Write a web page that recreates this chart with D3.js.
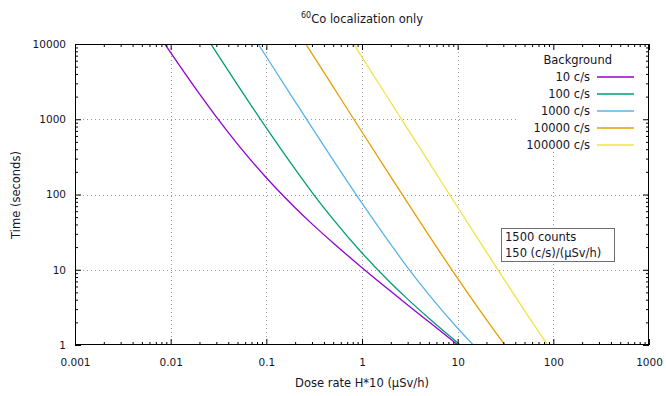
<!DOCTYPE html>
<html>
<head>
<meta charset="utf-8">
<script src="https://cdn.jsdelivr.net/npm/d3@7/dist/d3.min.js"></script>
<style>
  html, body { margin: 0; padding: 0; background: #fff; }
  svg { display: block; }
  text { font-family: "DejaVu Sans", sans-serif; font-size: 10.5px; fill: #14142a; }
</style>
</head>
<body>
<svg id="chart" width="666" height="396"></svg>
<script>
// Background rates (c/s) and their legend labels
const backgrounds = [10, 100, 1000, 10000, 100000];
const legendLabels = ["10 c/s", "100 c/s", "1000 c/s", "10000 c/s", "100000 c/s"];
const lineColors = ["#9400d3", "#009e73", "#56b4e9", "#e69f00", "#f0e442"];

// Dose rate H*10 (µSv/h) and time to localize (s), one pair per background
const dose10 = [0.008, 0.01, 0.02, 0.03, 0.05, 0.1, 0.2, 0.3, 0.5, 1, 2, 3, 5, 10, 12];
const time10 = [11670, 7670, 2170, 1074, 467, 166.7, 66.7, 40.7, 22.7, 10.67, 5.17, 3.41, 2.03, 1.007, 0.838];

const dose100 = [0.02, 0.03, 0.05, 0.1, 0.2, 0.3, 0.5, 1, 2, 3, 5, 10, 12];
const time100 = [17170, 7740, 2870, 767, 217, 107, 46.7, 16.7, 6.67, 4.07, 2.27, 1.07, 0.88];

const dose1000 = [0.07, 0.1, 0.2, 0.3, 0.5, 1, 2, 3, 5, 10, 15, 20];
const time1000 = [13750, 6770, 1720, 774, 287, 76.7, 21.7, 10.7, 4.67, 1.67, 0.963, 0.667];

const dose10000 = [0.2, 0.3, 0.5, 1, 2, 3, 5, 10, 20, 30, 40];
const time10000 = [16720, 7440, 2690, 677, 172, 77.4, 28.7, 7.67, 2.17, 1.07, 0.667];

const dose100000 = [0.7, 1, 2, 3, 5, 10, 20, 30, 50, 100];
const time100000 = [13620, 6680, 1670, 744, 269, 67.7, 17.2, 7.74, 2.87, 0.767];

// Axis ticks
const xMajorTicks = [0.001, 0.01, 0.1, 1, 10, 100, 1000];
const xTickLabels = ["0.001", "0.01", "0.1", "1", "10", "100", "1000"];
const yMajorTicks = [1, 10, 100, 1000, 10000];
const yTickLabels = ["1", "10", "100", "1000", "10000"];

const annotationLines = ["1500 counts", "150 (c/s)/(µSv/h)"];

const series = [
  { dose: dose10, time: time10 },
  { dose: dose100, time: time100 },
  { dose: dose1000, time: time1000 },
  { dose: dose10000, time: time10000 },
  { dose: dose100000, time: time100000 }
].map((s, i) => ({
  label: legendLabels[i],
  color: lineColors[i],
  points: s.dose.map((d, j) => ({ dose: d, time: s.time[j] }))
}));

const svg = d3.select("#chart");
const plotL = 75, plotR = 649, plotT = 44, plotB = 345;

const x = d3.scaleLog().domain([0.001, 1000]).range([plotL, plotR]);
const y = d3.scaleLog().domain([1, 10000]).range([plotB, plotT]);

function minorTicks(lo, hi) {
  const out = [];
  for (let p = lo; p < hi; p *= 10) {
    for (let k = 2; k <= 9; k++) out.push(p * k);
  }
  return out;
}
const xMinor = minorTicks(0.001, 1000);
const yMinor = minorTicks(1, 10000);

// clip region for the curves
svg.append("defs").append("clipPath").attr("id", "plotclip")
  .append("rect").attr("x", plotL).attr("y", plotT)
  .attr("width", plotR - plotL).attr("height", plotB - plotT);

// dotted grid at interior decades
const grid = svg.append("g").attr("stroke", "#9a9a9a").attr("stroke-width", 1)
  .attr("stroke-dasharray", "1,3");
grid.selectAll("line.gx").data(xMajorTicks.slice(1, -1)).join("line")
  .attr("class", "gx")
  .attr("x1", d => Math.round(x(d)) + 0.5).attr("x2", d => Math.round(x(d)) + 0.5)
  .attr("y1", plotT).attr("y2", plotB);
grid.selectAll("line.gy").data(yMajorTicks.slice(1, -1)).join("line")
  .attr("class", "gy")
  .attr("y1", d => Math.round(y(d)) + 0.5).attr("y2", d => Math.round(y(d)) + 0.5)
  .attr("x1", plotL).attr("x2", plotR);

// opaque key area
svg.append("rect").attr("x", 517).attr("y", 50).attr("width", 130).attr("height", 102)
  .attr("fill", "#fff");

// curves
const line = d3.line()
  .x(d => x(d.dose))
  .y(d => y(d.time))
  .curve(d3.curveMonotoneX);

svg.append("g").attr("clip-path", "url(#plotclip)")
  .selectAll("path").data(series).join("path")
  .attr("d", d => line(d.points))
  .attr("fill", "none")
  .attr("stroke", d => d.color)
  .attr("stroke-width", 1.3);

// annotation box
const ann = svg.append("g");
ann.append("rect").attr("x", 501.5).attr("y", 228.5).attr("width", 113).attr("height", 33)
  .attr("fill", "#fff").attr("stroke", "#6e6e6e").attr("stroke-width", 1);
ann.selectAll("text").data(annotationLines).join("text")
  .attr("x", 505).attr("y", (d, i) => 241 + i * 16)
  .style("font-size", "11.5px")
  .text(d => d);

// axes: major and minor ticks pointing inward on all four sides
function styleAxis(g) {
  g.select(".domain").remove();
  g.selectAll(".tick line").attr("stroke", "#000");
  g.selectAll(".tick text").attr("fill", "#14142a")
    .style("font-family", "\"DejaVu Sans\", sans-serif").style("font-size", "10.5px");
}

svg.append("g").attr("transform", `translate(0,${plotB})`)
  .call(d3.axisBottom(x).tickValues(xMajorTicks)
    .tickFormat((d, i) => xTickLabels[i]).tickSizeInner(-6).tickSizeOuter(0).tickPadding(14))
  .call(styleAxis);
svg.append("g").attr("transform", `translate(0,${plotB})`)
  .call(d3.axisBottom(x).tickValues(xMinor).tickFormat("").tickSizeInner(-3).tickSizeOuter(0))
  .call(styleAxis);
svg.append("g").attr("transform", `translate(0,${plotT})`)
  .call(d3.axisTop(x).tickValues(xMajorTicks).tickFormat("").tickSizeInner(-6).tickSizeOuter(0))
  .call(styleAxis);
svg.append("g").attr("transform", `translate(0,${plotT})`)
  .call(d3.axisTop(x).tickValues(xMinor).tickFormat("").tickSizeInner(-3).tickSizeOuter(0))
  .call(styleAxis);

svg.append("g").attr("transform", `translate(${plotL},0)`)
  .call(d3.axisLeft(y).tickValues(yMajorTicks)
    .tickFormat((d, i) => yTickLabels[i]).tickSizeInner(-6).tickSizeOuter(0).tickPadding(9))
  .call(styleAxis);
svg.append("g").attr("transform", `translate(${plotL},0)`)
  .call(d3.axisLeft(y).tickValues(yMinor).tickFormat("").tickSizeInner(-3).tickSizeOuter(0))
  .call(styleAxis);
svg.append("g").attr("transform", `translate(${plotR},0)`)
  .call(d3.axisRight(y).tickValues(yMajorTicks).tickFormat("").tickSizeInner(-6).tickSizeOuter(0))
  .call(styleAxis);
svg.append("g").attr("transform", `translate(${plotR},0)`)
  .call(d3.axisRight(y).tickValues(yMinor).tickFormat("").tickSizeInner(-3).tickSizeOuter(0))
  .call(styleAxis);

// plot border
svg.append("rect").attr("x", plotL + 0.5).attr("y", plotT + 0.5)
  .attr("width", plotR - plotL - 1).attr("height", plotB - plotT - 1)
  .attr("fill", "none").attr("stroke", "#000").attr("stroke-width", 1);

// key
const key = svg.append("g");
key.append("text").attr("x", 612).attr("y", 64).attr("text-anchor", "end")
  .style("font-size", "11.5px").text("Background");
const entry = key.selectAll("g.entry").data(series).join("g")
  .attr("class", "entry")
  .attr("transform", (d, i) => `translate(0,${77 + i * 17})`);
entry.append("text").attr("x", 590).attr("y", 4).attr("text-anchor", "end")
  .style("font-size", "11.5px").text(d => d.label);
entry.append("line").attr("x1", 597).attr("x2", 634).attr("y1", 0).attr("y2", 0)
  .attr("stroke", d => d.color).attr("stroke-width", 1.3);

// title with superscript mass number
const title = svg.append("text").attr("x", 362).attr("y", 23).attr("text-anchor", "middle")
  .style("font-size", "11.5px");
title.append("tspan").attr("dy", "-5").style("font-size", "8px").text("60");
title.append("tspan").attr("dy", "5").text("Co localization only");

// axis titles
svg.append("text").attr("x", 362).attr("y", 387).attr("text-anchor", "middle")
  .style("font-size", "11.5px").text("Dose rate H*10 (µSv/h)");
svg.append("text").attr("transform", "translate(20,195) rotate(-90)")
  .attr("text-anchor", "middle").style("font-size", "11.5px").text("Time (seconds)");
</script>
</body>
</html>
